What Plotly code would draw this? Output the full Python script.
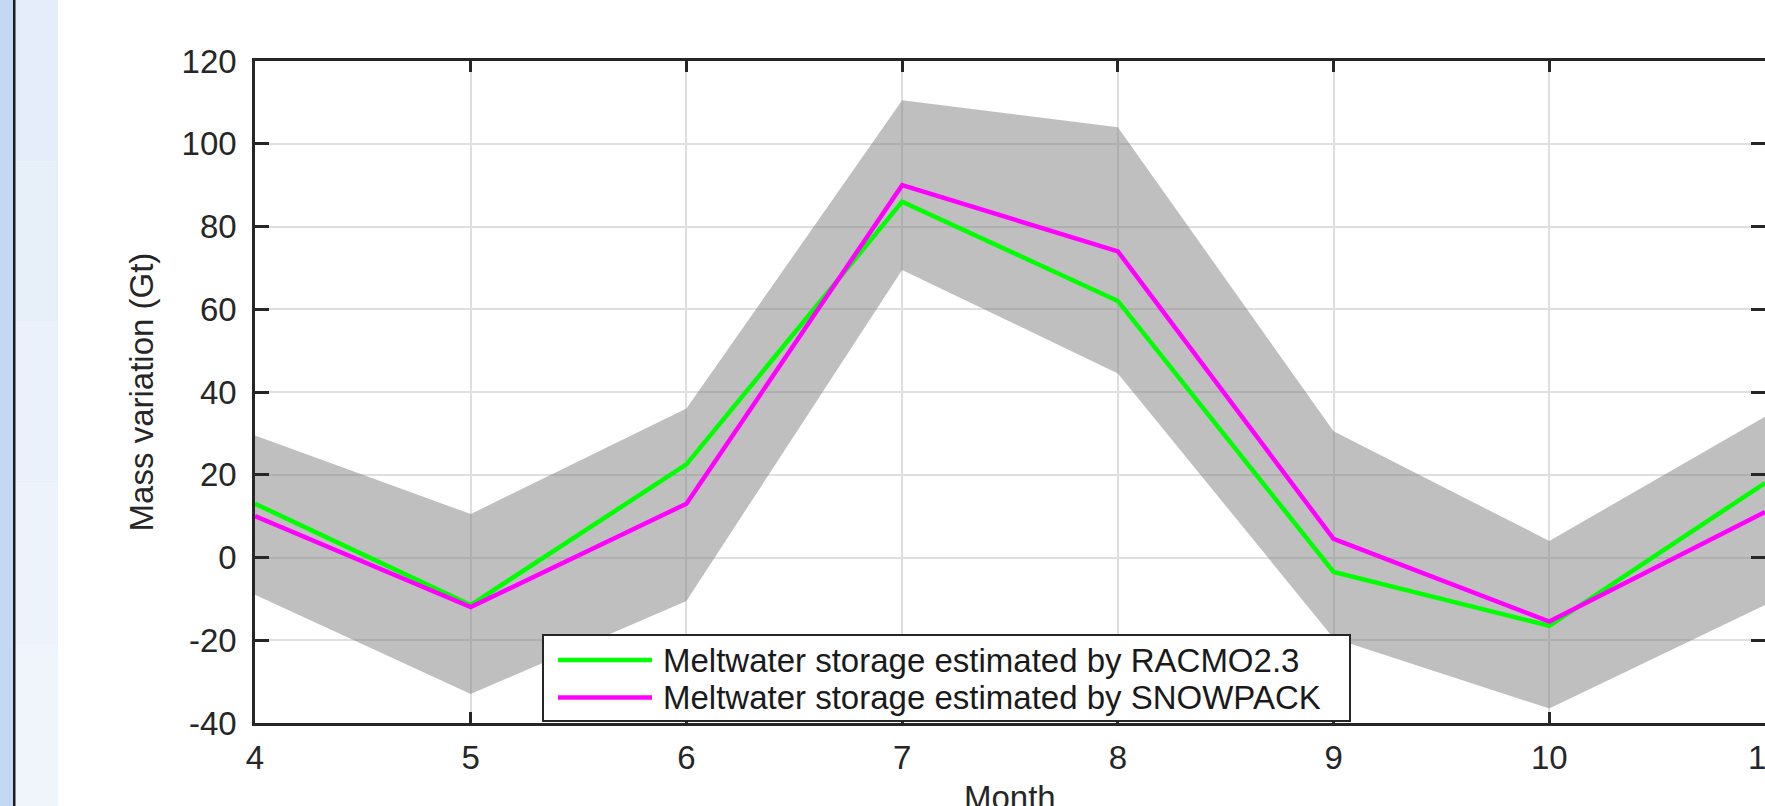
import plotly.graph_objects as go

# ---- data -------------------------------------------------------------
months = [4, 5, 6, 7, 8, 9, 10, 11]
racmo = [13, -11.5, 22.5, 86, 62, -3.5, -16.5, 18]
snowpack = [10, -12, 13, 90, 74, 4.5, -15.5, 11]
band_upper = [29.5, 10.5, 36, 110.5, 104, 30.5, 4, 34]
band_lower = [-9, -33, -10.5, 69.5, 44.5, -19.5, -36.5, -11.5]

series_names = ["Meltwater storage estimated by RACMO2.3",
                "Meltwater storage estimated by SNOWPACK"]
series_colors = ["#00ff00", "#ff00ff"]

x_ticks = [4, 5, 6, 7, 8, 9, 10, 11]
x_tick_labels = ["4", "5", "6", "7", "8", "9", "10", "11"]
y_ticks = [-40, -20, 0, 20, 40, 60, 80, 100, 120]
y_tick_labels = ["-40", "-20", "0", "20", "40", "60", "80", "100", "120"]

x_title = "Month"
y_title = "Mass variation (Gt)"

# ---- page geometry (pixels) -------------------------------------------
W, H = 1765, 806
PL, PR, PT, PB = 255, 1765, 61, 723   # plot box edges

FONT = "Liberation Sans, Arial, Helvetica, sans-serif"
INK = "#262626"


def fx(px):
    return (px - PL) / (PR - PL)


def fy(py):
    return (PB - py) / (PB - PT)


fig = go.Figure()

# uncertainty envelope
fig.add_trace(go.Scatter(
    x=months + months[::-1],
    y=band_upper + band_lower[::-1],
    fill="toself",
    fillcolor="rgba(128,128,128,0.5)",
    line=dict(width=0),
    mode="lines",
    hoverinfo="skip",
    showlegend=False,
))

for name, vals, col in zip(series_names, [racmo, snowpack], series_colors):
    fig.add_trace(go.Scatter(
        x=months, y=vals, mode="lines", name=name,
        line=dict(color=col, width=4.5),
        showlegend=False,
    ))

shapes = []
# window frame strip at the far left
strip_y0, strip_y1 = fy(H), fy(0)
shapes.append(dict(type="rect", xref="paper", yref="paper", layer="below",
                   x0=fx(0), x1=fx(13), y0=strip_y0, y1=strip_y1,
                   fillcolor="#c4d8f2", line=dict(width=0)))
grad = ["#e4edf9", "#e7eff9", "#eaf1fa", "#edf3fb", "#f0f5fc"]
n = len(grad)
for i, c in enumerate(grad):
    shapes.append(dict(type="rect", xref="paper", yref="paper", layer="below",
                       x0=fx(15), x1=fx(58),
                       y0=fy(H * (i + 1) / n), y1=fy(H * i / n),
                       fillcolor=c, line=dict(width=0)))
shapes.append(dict(type="rect", xref="paper", yref="paper", layer="below",
                   x0=fx(13), x1=fx(15.5), y0=strip_y0, y1=strip_y1,
                   fillcolor="#1c1c1c", line=dict(width=0)))

# legend box
shapes.append(dict(type="rect", xref="paper", yref="paper", layer="above",
                   x0=fx(543), x1=fx(1350), y0=fy(721), y1=fy(635),
                   fillcolor="white", line=dict(color=INK, width=2)))
row_y = [660, 697.5]
annotations = []
for name, col, ry in zip(series_names, series_colors, row_y):
    shapes.append(dict(type="line", xref="paper", yref="paper", layer="above",
                       x0=fx(558), x1=fx(652), y0=fy(ry), y1=fy(ry),
                       line=dict(color=col, width=4.5)))
    annotations.append(dict(xref="paper", yref="paper", x=fx(661), y=fy(ry),
                            xanchor="left", yanchor="middle", showarrow=False,
                            text=name, font=dict(family=FONT, size=33, color="#1a1a1a")))

# x-axis title sits low in the frame, running past the bottom edge
annotations.append(dict(xref="paper", yref="paper", x=0.5, y=fy(777),
                        xanchor="center", yanchor="top", showarrow=False,
                        text=x_title, font=dict(family=FONT, size=33, color=INK)))

axis_common = dict(
    showline=True, linecolor=INK, linewidth=2.5, mirror="ticks",
    ticks="inside", tickcolor=INK, tickwidth=2.5,
    showgrid=True, gridcolor="#dfdfdf", gridwidth=2,
    zeroline=False, ticklabeloverflow="allow", automargin=False,
    tickfont=dict(family=FONT, size=33, color=INK),
)

fig.update_layout(
    width=W, height=H,
    margin=dict(l=PL, r=W - PR, t=PT, b=H - PB, pad=0),
    paper_bgcolor="white", plot_bgcolor="white",
    shapes=shapes, annotations=annotations,
    showlegend=False,
    xaxis=dict(range=[4, 11], tickvals=x_ticks, ticktext=x_tick_labels,
               ticklen=11, ticklabelstandoff=4,
               **axis_common),
    yaxis=dict(range=[-40, 120], tickvals=y_ticks, ticktext=y_tick_labels,
               ticklen=14, ticklabelstandoff=9,
               title=dict(text=y_title, standoff=19,
                          font=dict(family=FONT, size=33, color=INK)),
               **axis_common),
)

fig.write_html(
    "out.html",
    post_script="document.body.style.margin='0';"
                "document.body.style.overflow='hidden';"
                "document.documentElement.style.overflow='hidden';",
)
